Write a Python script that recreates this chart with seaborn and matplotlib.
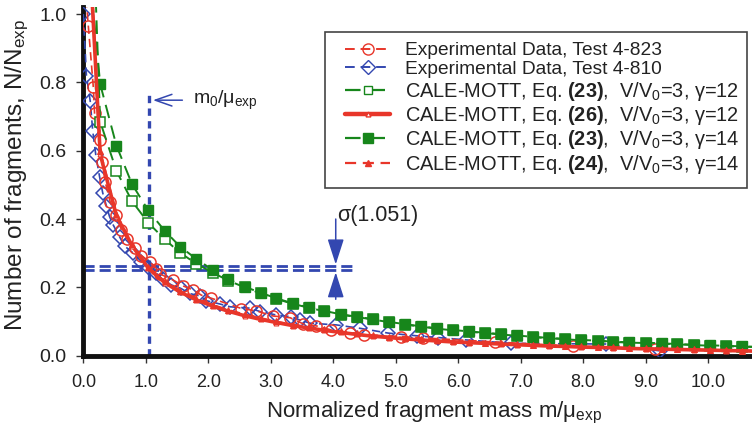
import matplotlib
matplotlib.use("Agg")
import matplotlib.pyplot as plt
import seaborn as sns
from matplotlib.lines import Line2D
from matplotlib.patches import Rectangle

# ---------------- data ----------------
# model curves share one grid of marker positions (m/mu_exp)
model_x = [0.01, 0.27, 0.53, 0.78, 1.04, 1.30, 1.55, 1.81, 2.07, 2.32, 2.58, 2.84,
           3.09, 3.35, 3.61, 3.86, 4.12, 4.38, 4.63, 4.89, 5.15, 5.40, 5.66, 5.92,
           6.17, 6.43, 6.69, 6.94, 7.20, 7.46, 7.71, 7.97, 8.23, 8.48, 8.74, 9.00,
           9.26, 9.51, 9.77, 10.03, 10.28, 10.54, 10.80]

eq23_g14 = [1.30, 0.795, 0.615, 0.502, 0.425, 0.366, 0.319, 0.283, 0.251, 0.224, 0.202, 0.184,
            0.168, 0.153, 0.141, 0.131, 0.121, 0.114, 0.107, 0.099, 0.092, 0.086, 0.080, 0.075,
            0.071, 0.067, 0.063, 0.059, 0.055, 0.052, 0.049, 0.046, 0.044, 0.041, 0.039, 0.038,
            0.036, 0.034, 0.032, 0.030, 0.029, 0.027, 0.026]

eq23_g12 = [2.00, 0.685, 0.541, 0.452, 0.389, 0.341, 0.301, 0.269, 0.243, 0.220, 0.200, 0.182,
            0.166, 0.152, 0.140, 0.130, 0.120, 0.113, 0.106, 0.098, 0.091, 0.085, 0.079, 0.074,
            0.070, 0.066, 0.062, 0.058, 0.054, 0.051, 0.048, 0.045, 0.043, 0.040, 0.038, 0.037,
            0.035, 0.033, 0.031, 0.029, 0.028, 0.026, 0.025]

eq26_g12 = [1.50, 0.590, 0.410, 0.322, 0.256, 0.214, 0.186, 0.163, 0.145, 0.130, 0.117, 0.106,
            0.097, 0.088, 0.081, 0.074, 0.068, 0.062, 0.057, 0.053, 0.049, 0.046, 0.043, 0.040,
            0.038, 0.036, 0.034, 0.032, 0.030, 0.028, 0.027, 0.025, 0.024, 0.023, 0.021, 0.020,
            0.019, 0.018, 0.017, 0.016, 0.015, 0.014, 0.013]

eq24_g14 = [1.55, 0.600, 0.415, 0.326, 0.260, 0.218, 0.190, 0.167, 0.149, 0.134, 0.121, 0.110,
            0.100, 0.091, 0.084, 0.077, 0.071, 0.065, 0.060, 0.056, 0.052, 0.048, 0.045, 0.042,
            0.040, 0.038, 0.036, 0.034, 0.032, 0.030, 0.028, 0.027, 0.025, 0.024, 0.022, 0.021,
            0.020, 0.019, 0.018, 0.017, 0.016, 0.015, 0.014]

test823_x = [0.03, 0.08, 0.16, 0.18, 0.26, 0.30, 0.35, 0.43, 0.53, 0.61, 0.70, 0.82, 0.93,
             1.06, 1.17, 1.23, 1.44, 1.60, 1.76, 1.89, 2.05, 2.53, 2.77, 3.04, 3.31, 3.52,
             3.73, 3.97, 4.27, 4.50, 5.09, 5.43, 6.59, 7.84, 9.15]
test823_y = [1.08, 0.965, 0.786, 0.710, 0.630, 0.568, 0.509, 0.450, 0.412, 0.368, 0.342, 0.314, 0.293,
             0.275, 0.255, 0.239, 0.221, 0.204, 0.192, 0.177, 0.168, 0.138, 0.131, 0.116, 0.111, 0.093,
             0.087, 0.075, 0.066, 0.061, 0.056, 0.052, 0.040, 0.028, 0.019]

test810_x = [0.00, 0.05, 0.11, 0.15, 0.20, 0.26, 0.31, 0.37, 0.42, 0.48, 0.58, 0.66, 0.80, 0.93,
             1.04, 1.17, 1.27, 1.41, 1.56, 1.70, 1.86, 1.97, 2.19, 2.35, 2.67, 2.83, 3.09, 3.33,
             3.47, 3.63, 4.05, 4.43, 4.88, 5.34, 5.68, 6.13, 6.85, 8.37, 9.23]
test810_y = [1.00, 0.819, 0.746, 0.659, 0.587, 0.524, 0.477, 0.438, 0.407, 0.382, 0.348, 0.321, 0.300, 0.275,
             0.260, 0.241, 0.223, 0.207, 0.197, 0.182, 0.175, 0.161, 0.151, 0.143, 0.139, 0.129, 0.119, 0.114,
             0.104, 0.095, 0.090, 0.080, 0.066, 0.058, 0.053, 0.046, 0.036, 0.034, 0.014]

m0_ratio = 1.05
sigma_lo, sigma_hi = 0.25, 0.263

legend_labels = [
    "Experimental Data, Test 4-823",
    "Experimental Data, Test 4-810",
    r"CALE-MOTT, Eq. $\mathbf{(23)}$,  V/V$_0$=3, γ=12",
    r"CALE-MOTT, Eq. $\mathbf{(26)}$,  V/V$_0$=3, γ=12",
    r"CALE-MOTT, Eq. $\mathbf{(23)}$,  V/V$_0$=3, γ=14",
    r"CALE-MOTT, Eq. $\mathbf{(24)}$,  V/V$_0$=3, γ=14",
]
x_ticks = [0, 1, 2, 3, 4, 5, 6, 7, 8, 9, 10]
y_ticks = [0.0, 0.2, 0.4, 0.6, 0.8, 1.0]

# ---------------- style ----------------
sns.set_theme(style="white")
plt.rcParams["font.family"] = ["Liberation Sans", "DejaVu Sans"]
plt.rcParams["mathtext.fontset"] = "custom"
plt.rcParams["mathtext.rm"] = "Liberation Sans"
plt.rcParams["mathtext.it"] = "Liberation Sans:italic"
plt.rcParams["mathtext.bf"] = "Liberation Sans:bold"

RED = "#e8362a"
BLUE = "#3347b0"
GREEN = "#17861b"
TXT = "#222222"

fig = plt.figure(figsize=(7.52, 4.29), dpi=100)
ax = fig.add_axes([0.1108, 0.171, 0.889, 0.812])

dash = (0, (5, 3))

sns.lineplot(x=test810_x, y=test810_y, ax=ax, sort=False, estimator=None, color=BLUE,
             linestyle=dash, lw=1.2, marker="D", ms=7, mfc="none", mec=BLUE, mew=1.1, zorder=3)
sns.lineplot(x=test823_x, y=test823_y, ax=ax, sort=False, estimator=None, color=RED,
             linestyle=dash, lw=1.2, marker="o", ms=8, mfc="none", mec=RED, mew=1.1, zorder=3)
sns.lineplot(x=model_x, y=eq23_g12, ax=ax, sort=False, estimator=None, color=GREEN,
             linestyle=(0, (7, 4)), lw=1.4, marker="s", ms=6.5, mfc="white", mec=GREEN, mew=1.1, zorder=4)
sns.lineplot(x=model_x, y=eq23_g14, ax=ax, sort=False, estimator=None, color=GREEN,
             linestyle=(0, (7, 4)), lw=1.4, marker="s", ms=7, mfc=GREEN, mec=GREEN, mew=1.0, zorder=5)
sns.lineplot(x=model_x, y=eq26_g12, ax=ax, sort=False, estimator=None, color=RED,
             linestyle="-", lw=2.6, marker="^", ms=3.5, mfc="white", mec=RED, mew=0.8, zorder=6)
sns.lineplot(x=model_x, y=eq24_g14, ax=ax, sort=False, estimator=None, color=RED,
             linestyle=(0, (5, 3)), lw=1.4, marker="^", ms=5, mfc=RED, mec=RED, zorder=6)

# reference lines / annotations
ax.plot([m0_ratio, m0_ratio], [0, 0.767], color=BLUE, lw=2.4, linestyle=(0, (2.2, 1.6)), zorder=2)
for yv in (sigma_lo, sigma_hi):
    ax.plot([0, 4.32], [yv, yv], color=BLUE, lw=2.0, linestyle=(0, (4, 1.8)), zorder=2)

ax.annotate("", xy=(m0_ratio + 0.02, 0.748), xytext=(1.63, 0.748),
            arrowprops=dict(arrowstyle="->,head_length=1.0,head_width=0.35", color=BLUE, lw=1.1))
ax.text(1.75, 0.748, r"m$_0$/μ$_{\mathrm{exp}}$", fontsize=14, va="center", ha="left", color=TXT)

ax.annotate("", xy=(4.04, sigma_hi + 0.004), xytext=(4.04, 0.40),
            arrowprops=dict(arrowstyle="-|>,head_length=1.12,head_width=0.36", color=BLUE, lw=1.1,
                            mutation_scale=14, shrinkA=0, shrinkB=0))
ax.annotate("", xy=(4.04, sigma_lo - 0.006), xytext=(4.04, 0.165),
            arrowprops=dict(arrowstyle="-|>,head_length=1.12,head_width=0.36", color=BLUE, lw=1.1,
                            mutation_scale=14, shrinkA=0, shrinkB=0))
ax.text(4.06, 0.411, "σ(1.051)", fontsize=15.5, va="center", ha="left", color=TXT)

# axes styling
ax.set_xlim(0, 10.7)
ax.set_ylim(0, 1.02)
ax.set_xticks(x_ticks)
ax.set_xticklabels([f"{v:.1f}" for v in x_ticks])
ax.set_yticks(y_ticks)
ax.set_yticklabels([f"{v:.1f}" for v in y_ticks])
for s in ("top", "right"):
    ax.spines[s].set_visible(False)
for s in ("left", "bottom"):
    ax.spines[s].set_linewidth(3.5)
    ax.spines[s].set_color("#111111")
ax.tick_params(axis="both", direction="out", length=5, width=1.0, color="#333333",
               labelcolor=TXT, left=True, bottom=True)
ax.tick_params(axis="y", labelsize=14, pad=7)
ax.tick_params(axis="x", labelsize=13, pad=8)
ax.set_xlabel(r"Normalized fragment mass m/μ$_{\mathrm{exp}}$", fontsize=16, color=TXT)
ax.set_ylabel(r"Number of fragments, N/N$_{\mathrm{exp}}$", fontsize=17.5, color=TXT)
ax.xaxis.set_label_coords(0.524, -0.127)
ax.yaxis.set_label_coords(-0.078, 0.518)
ax.grid(False)

handles = [
    Line2D([], [], color=RED, linestyle=dash, lw=1.4, marker="o", ms=8, mfc="none", mec=RED),
    Line2D([], [], color=BLUE, linestyle=dash, lw=1.4, marker="D", ms=7, mfc="none", mec=BLUE),
    Line2D([], [], color=GREEN, linestyle=(0, (7, 4)), lw=1.6, marker="s", ms=6, mfc="white", mec=GREEN),
    Line2D([], [], color=RED, linestyle="-", lw=3.2, marker="^", ms=3.5, mfc="white", mec=RED),
    Line2D([], [], color=GREEN, linestyle=(0, (7, 4)), lw=1.6, marker="s", ms=7, mfc=GREEN, mec=GREEN),
    Line2D([], [], color=RED, linestyle=(0, (5, 3)), lw=1.6, marker="^", ms=5, mfc=RED, mec=RED),
]
leg = fig.legend(handles, legend_labels, loc="upper left", bbox_to_anchor=(345 / 752, 1 - 42 / 429),
                 fontsize=13.8, frameon=False,
                 handlelength=2.37, handletextpad=0.78, labelspacing=0.07, borderpad=0.0,
                 borderaxespad=0.0)
for i, t in enumerate(leg.get_texts()):
    t.set_color(TXT)
    if i >= 2:
        t.set_fontsize(14.4)
fig.patches.append(Rectangle((325 / 752, 1 - 188 / 429), 422 / 752, 156 / 429,
                             transform=fig.transFigure, fill=False, edgecolor="#444444",
                             lw=1.2, zorder=10))

fig.savefig("out.png", dpi=100)
